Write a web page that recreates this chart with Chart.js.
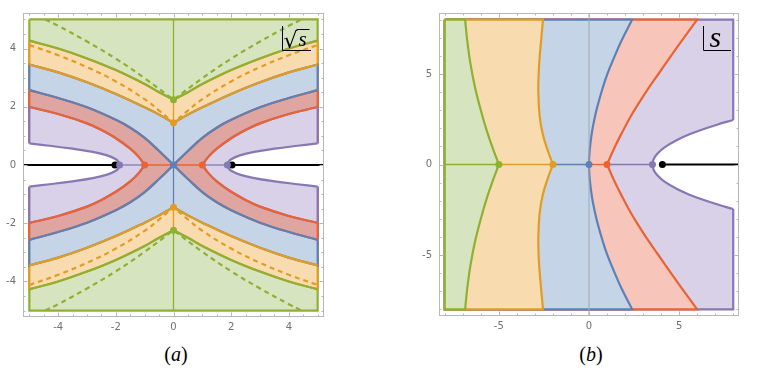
<!DOCTYPE html>
<html>
<head>
<meta charset="utf-8">
<script src="https://cdn.jsdelivr.net/npm/chart.js@4.4.1/dist/chart.umd.min.js"></script>
<style>
  body { margin: 0; background: #fff; }
  #wrap { position: relative; width: 763px; height: 376px; overflow: hidden; }
  #chartA { position: absolute; left: 0; top: 0; }
  #chartB { position: absolute; left: 416px; top: 0; }
  .cap { position: absolute; top: 343px; width: 60px; height: 24px; line-height: 24px; text-align: center; font: 20px "Liberation Serif"; color: #000; }
</style>
</head>
<body>
<div id="wrap">
  <canvas id="chartA" width="328" height="331"></canvas>
  <canvas id="chartB" width="327" height="330"></canvas>
  <div class="cap" style="left:146px">(<i>a</i>)</div>
  <div class="cap" style="left:561px">(<i>b</i>)</div>
</div>
<script>
// ---- (a) sqrt(s) plane: upper right quadrant, the rest is mirrored ----
const greenA      = [[0, 2.24], [0.5, 2.5], [1, 2.78], [2, 3.26], [3, 3.66], [4, 4.0], [5, 4.27]];
const orangeA     = [[0, 1.45], [0.5, 1.73], [1, 1.98], [2, 2.44], [3, 2.84], [4, 3.18], [5, 3.45]];
const greenDashA  = [[0, 2.24], [1, 2.98], [2, 3.65], [3, 4.24], [4, 4.78], [4.45, 5.0]];
const orangeDashA = [[0, 1.45], [0.5, 1.87], [1, 2.26], [2, 2.87], [3, 3.36], [4, 3.77], [5, 4.12]];
const blueA       = [[0, 0], [0.5, 0.48], [1, 0.93], [1.5, 1.28], [2, 1.55], [3, 1.98], [4, 2.3], [5, 2.57]];
const redA        = [[1, 0], [1.2, 0.27], [1.5, 0.56], [2, 0.92], [2.5, 1.2], [3, 1.43], [4, 1.75], [5, 1.99]];
const purpleA     = [[1.87, 0], [1.9, 0.1], [2.0, 0.2], [2.3, 0.33], [2.8, 0.45], [3.5, 0.56], [4.3, 0.66], [5, 0.74]];
const branchA = 2.03;   // end of the cut
const boxA = 5;         // plotted region
const limA = 5.22;      // frame
const majorA = [-4, -2, 0, 2, 4];
const minorA = [-5, -4.5, -3.5, -3, -2.5, -1.5, -1, -0.5, 0.5, 1, 1.5, 2.5, 3, 3.5, 4.5, 5];

// ---- (b) s plane: upper half, mirrored below ----
const greenB  = [[-5, 0], [-5.3, 0.8], [-5.65, 1.8], [-6.0, 3], [-6.33, 4.3], [-6.58, 5.6], [-6.76, 6.9], [-6.87, 8]];
const orangeB = [[-2, 0], [-2.3, 0.8], [-2.57, 1.7], [-2.74, 2.7], [-2.81, 4], [-2.78, 5.3], [-2.68, 6.6], [-2.55, 8]];
const blueB   = [[0, 0], [0.04, 0.8], [0.16, 1.77], [0.32, 2.6], [0.46, 3.19], [0.75, 4.2], [1.02, 5.01], [1.43, 6], [1.8, 6.84], [2.39, 8]];
const redB    = [[1, 0], [1.4, 0.9], [1.85, 1.8], [2.28, 2.6], [2.64, 3.2], [3.22, 4.1], [3.85, 5], [4.55, 6], [5.15, 6.84], [6, 8]];
const purpleB = [[3.52, 0], [3.59, 0.3], [3.79, 0.6], [4.19, 0.95], [4.91, 1.37], [5.61, 1.68], [6.33, 1.95], [7.1, 2.2], [8, 2.46]];
const branchB = 4.07;
const boxB = 8;
const limBx = 8.32, limBy = 8.37;
const majorB = [-5, 0, 5];
const minorB = [-8, -7, -6, -4, -3, -2, -1, 1, 2, 3, 4, 6, 7, 8];

const G = '#8fb032', O = '#e19c24', B = '#5e81b5', R = '#eb6235', P = '#8778b3';
const fG = '#d6e4c0', fO = '#f8dcb0', fB = '#c6d4e7', fRa = '#dfa6a1', fRb = '#f7c5b9', fP = '#d8d1e7';
const NONE = 'rgba(0,0,0,0)';
const LW = 2.2;

// helpers on [x, y] lists
const mx = q => q.map(([x, y]) => [-x, y]);
const my = q => q.map(([x, y]) => [x, -y]);
const rv = q => q.slice().reverse();
const last = q => q[q.length - 1];
const sharp = (...parts) => parts.flatMap(p => [p[0], ...p, p[p.length - 1]]); // corners at joins
const smooth = (a, b) => [...a, ...b.slice(1)];
const same = q => q;

function curve(pts, color, extra) {
  return Object.assign({
    data: pts.map(([x, y]) => ({x, y})),
    borderColor: color, borderWidth: LW, pointRadius: 0,
    fill: false, tension: 0.4
  }, extra);
}
function area(pts, fill, line, extra) {
  return curve(pts, line, Object.assign({fill: 'shape', backgroundColor: fill}, extra));
}
function dots(pts, colors) {
  return {
    data: pts.map(([x, y]) => ({x, y})), showLine: false,
    pointRadius: 3.5, pointBackgroundColor: colors, pointBorderWidth: 0, borderWidth: 0
  };
}

// ---------- datasets (a), back to front ----------
const setsA = [];
const square = b => [[-b, b], [b, b], [b, -b], [-b, -b], [-b, b]];
setsA.push(area(square(boxA), fG, G, {tension: 0}));
function bandA(q, fill, line) {
  const e = last(q);
  return area(sharp(rv(mx(q)), q, rv(my(q)), my(mx(q)), [[-e[0], e[1]]]), fill, line);
}
setsA.push(bandA(greenA, fO, O));
setsA.push(bandA(orangeA, fB, B));
function wedgeA(q, side) {
  const e = last(q);
  const pts = sharp(rv(my(q)), q, [[e[0], -e[1]]]);
  return side > 0 ? pts : mx(pts);
}
[1, -1].forEach(s => setsA.push(area(wedgeA(blueA, s), fRa, R)));
[1, -1].forEach(s => setsA.push(area(wedgeA(redA, s), fP, P)));
[1, -1].forEach(s => {
  const e = last(purpleA);
  const pts = sharp([[e[0] + 0.15, -e[1]]], smooth(rv(my(purpleA)), purpleA), [[e[0] + 0.15, e[1]]]);
  setsA.push(area(s > 0 ? pts : mx(pts), '#fff', NONE, {borderWidth: 1}));
});
// dashed curves
const vA = q => sharp(rv(mx(q)), q);
[same, my].forEach(f => {
  setsA.push(curve(f(vA(greenDashA)), G, {borderDash: [5, 4]}));
  setsA.push(curve(f(vA(orangeDashA)), O, {borderDash: [5, 4]}));
});
// solid curves
[same, my].forEach(f => {
  setsA.push(curve(f(vA(greenA)), G));
  setsA.push(curve(f(vA(orangeA)), O));
  setsA.push(curve(f(smooth(rv(mx(blueA)), my(blueA))), B));
});
[same, mx].forEach(f => {
  setsA.push(curve(f(sharp(rv(my(redA)), redA)), R));
  setsA.push(curve(f(smooth(rv(my(purpleA)), purpleA)), P));
});
// pieces of the axes
const thin = {borderWidth: 1.3, tension: 0};
[1, -1].forEach(s => {
  setsA.push(curve([[0, s * greenA[0][1]], [0, s * boxA]], G, thin));
  setsA.push(curve([[0, s * orangeA[0][1]], [0, s * greenA[0][1]]], O, thin));
  setsA.push(curve([[s * redA[0][0], 0], [s * purpleA[0][0], 0]], P, thin));
  setsA.push(curve([[s * branchA, 0], [s * limA, 0]], '#000', {borderWidth: 1.8, tension: 0}));
});
setsA.push(curve([[0, -orangeA[0][1]], [0, orangeA[0][1]]], B, thin));
setsA.push(curve([[-redA[0][0], 0], [redA[0][0], 0]], R, thin));
setsA.push(dots(
  [[-branchA, 0], [branchA, 0], greenA[0], my(greenA)[0], orangeA[0], my(orangeA)[0], blueA[0],
   redA[0], mx(redA)[0], purpleA[0], mx(purpleA)[0]],
  ['#000', '#000', G, G, O, O, B, R, R, P, P]));

// ---------- datasets (b), back to front ----------
const setsB = [];
setsB.push(area(square(boxB), fP, P, {tension: 0}));
function leftOf(q, fill, line, round) {
  const c = round ? smooth(rv(q), my(q)) : sharp(rv(q), my(q));
  return area(sharp([[-boxB, boxB]], c, [[-boxB, -boxB], [-boxB, boxB]]), fill, line);
}
setsB.push(leftOf(redB, fRb, R, false));
setsB.push(leftOf(blueB, fB, B, true));
setsB.push(leftOf(orangeB, fO, O, false));
setsB.push(leftOf(greenB, fG, G, false));
const eB = last(purpleB);
setsB.push(area(sharp([[eB[0] + 0.3, eB[1]]], smooth(rv(purpleB), my(purpleB)), [[eB[0] + 0.3, -eB[1]]]), '#fff', NONE, {borderWidth: 1}));
setsB.push(curve([[0, -limBy], [0, limBy]], '#a2a8b0', {borderWidth: 1, tension: 0}));
setsB.push(curve(smooth(rv(purpleB), my(purpleB)), P));
setsB.push(curve([[-boxB, 0], [greenB[0][0], 0]], G, thin));
setsB.push(curve([[greenB[0][0], 0], [orangeB[0][0], 0]], O, thin));
setsB.push(curve([[orangeB[0][0], 0], [blueB[0][0], 0]], B, thin));
setsB.push(curve([[blueB[0][0], 0], [redB[0][0], 0]], R, thin));
setsB.push(curve([[redB[0][0], 0], [purpleB[0][0], 0]], P, thin));
setsB.push(curve([[branchB, 0], [limBx, 0]], '#000', {borderWidth: 1.8, tension: 0}));
setsB.push(dots([greenB[0], orangeB[0], blueB[0], redB[0], [branchB, 0], purpleB[0]],
  [G, O, B, R, '#000', P]));

// ---------- plugins ----------
const frameTicks = {
  id: 'frameTicks',
  afterDraw(chart, args, o) {
    const {ctx, chartArea: a, scales: {x, y}} = chart;
    ctx.save();
    ctx.strokeStyle = '#b8b8b8';
    ctx.lineWidth = 1;
    ctx.strokeRect(a.left + 0.5, a.top + 0.5, a.right - a.left - 1, a.bottom - a.top - 1);
    ctx.beginPath();
    const mark = (vals, len) => vals.forEach(v => {
      const px = Math.round(x.getPixelForValue(v)) + 0.5;
      ctx.moveTo(px, a.bottom); ctx.lineTo(px, a.bottom - len);
      ctx.moveTo(px, a.top); ctx.lineTo(px, a.top + len);
      const py = Math.round(y.getPixelForValue(v)) + 0.5;
      ctx.moveTo(a.left, py); ctx.lineTo(a.left + len, py);
      ctx.moveTo(a.right, py); ctx.lineTo(a.right - len, py);
    });
    mark(o.major, 4.5);
    mark(o.minor, 2.5);
    ctx.stroke();
    ctx.restore();
  }
};

const cornerLabel = {
  id: 'cornerLabel',
  afterDraw(chart, args, o) {
    const {ctx, chartArea: a} = chart;
    const x0 = Math.round(a.right - o.dx) + 0.5, y0 = a.top + 13, y1 = a.top + 37.5;
    ctx.save();
    ctx.strokeStyle = '#000';
    ctx.lineWidth = 1;
    ctx.beginPath();
    ctx.moveTo(x0, y0); ctx.lineTo(x0, y1); ctx.lineTo(a.right - o.end, y1);
    ctx.stroke();
    ctx.fillStyle = '#000';
    if (o.root) {
      ctx.font = '22px "DejaVu Serif"';
      ctx.fillText('\u221A', x0 + 1, y1 - 3);
      const w = ctx.measureText('\u221A').width;
      ctx.font = 'italic 21px "Liberation Serif"';
      ctx.fillText(o.text, x0 + 2 + w, y1 - 5);
      ctx.beginPath();
      ctx.moveTo(x0 + w, a.top + 16.5);
      ctx.lineTo(x0 + w + 13, a.top + 16.5);
      ctx.stroke();
    } else {
      ctx.font = 'italic 30px "Liberation Serif"';
      ctx.fillText(o.text, x0 + 6, y1 - 4);
    }
    ctx.restore();
  }
};

function axis(lim, major, isX) {
  return {
    type: 'linear', min: -lim, max: lim,
    grid: {display: false, drawTicks: false},
    border: {display: false},
    ticks: {autoSkip: false, maxRotation: 0, padding: isX ? 4 : 7, color: '#707070',
            font: {family: 'DejaVu Sans', size: 10}},
    afterBuildTicks: s => { s.ticks = major.map(v => ({value: v})); },
    afterFit: s => { if (isX) s.height = 14; else s.width = 23; }
  };
}

function makeChart(id, sets, limX, limY, major, minor, label) {
  sets.forEach((d, i) => { d.order = sets.length - i; });
  return new Chart(document.getElementById(id), {
    type: 'line',
    data: {datasets: sets},
    options: {
      responsive: false, animation: false, devicePixelRatio: 1, events: [],
      layout: {padding: {top: 10, right: 0, left: 0, bottom: 0}},
      plugins: {
        legend: {display: false}, tooltip: {enabled: false},
        frameTicks: {major, minor},
        cornerLabel: label
      },
      scales: {x: axis(limX, major, true), y: axis(limY, major, false)}
    },
    plugins: [frameTicks, cornerLabel]
  });
}

makeChart('chartA', setsA, limA, limA, majorA, minorA, {text: 's', root: true, dx: 42, end: 13});
makeChart('chartB', setsB, limBx, limBy, majorB, minorB, {text: 's', root: false, dx: 36.3, end: 8});
</script>
</body>
</html>
